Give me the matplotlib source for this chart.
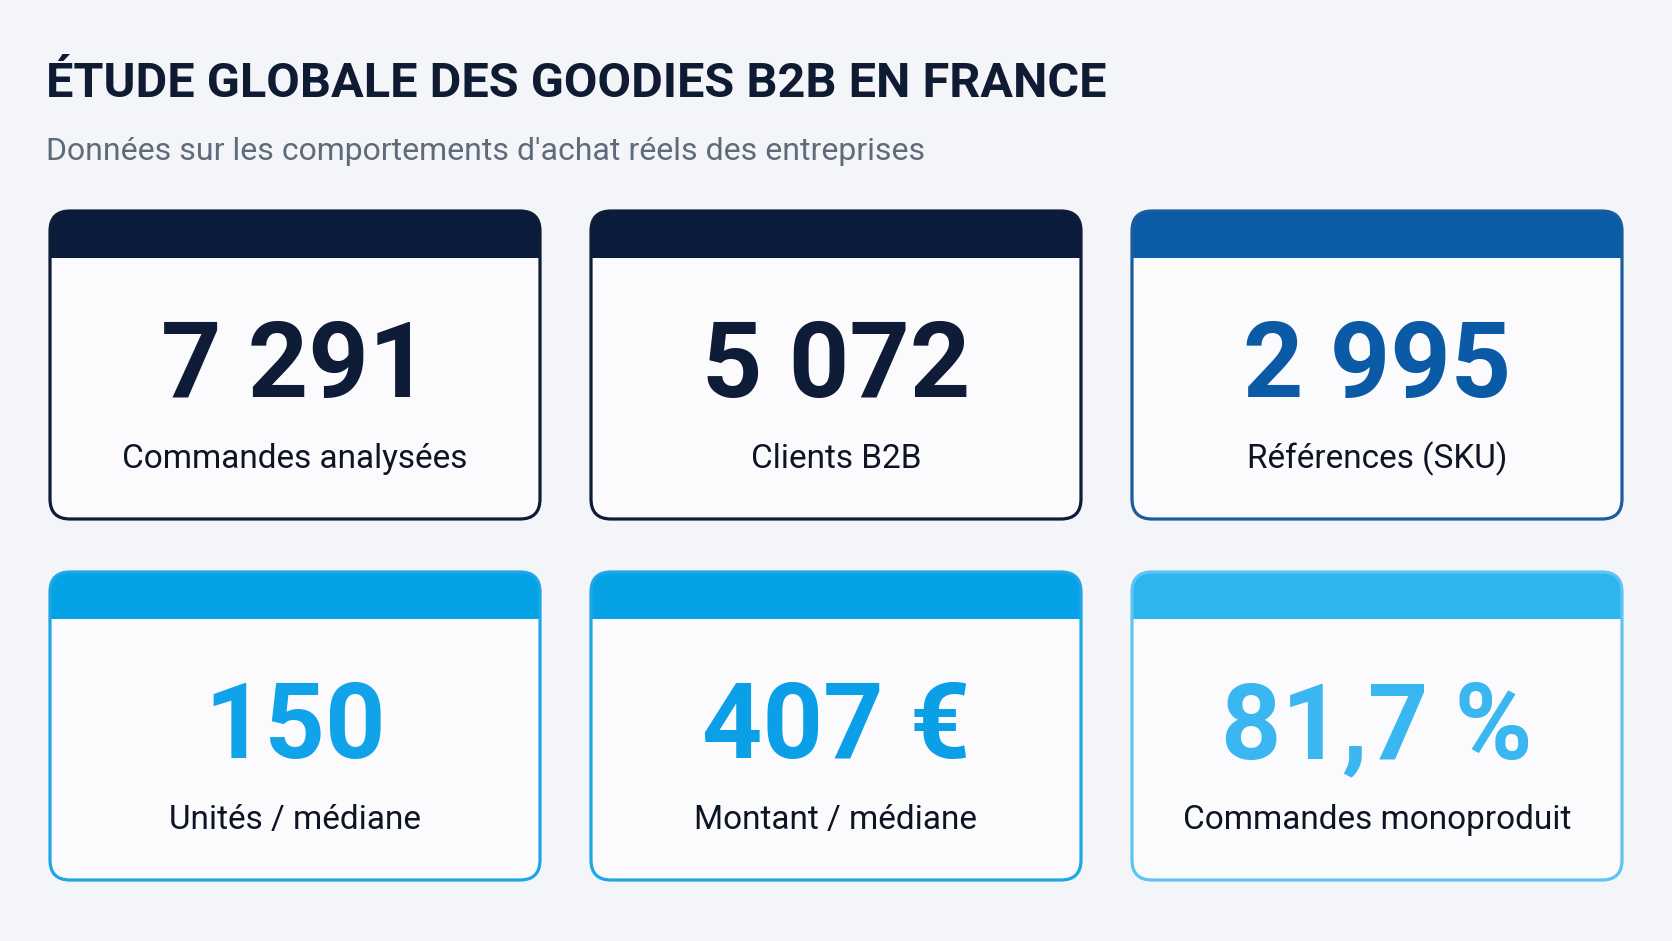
import matplotlib.pyplot as plt
from matplotlib.patches import FancyBboxPatch, Rectangle

# Data
TITLE = "ÉTUDE GLOBALE DES GOODIES B2B EN FRANCE"
SUBTITLE = "Données sur les comportements d'achat réels des entreprises"
VALUES = ["7 291", "5 072", "2 995", "150", "407 €", "81,7 %"]
LABELS = [
    "Commandes analysées",
    "Clients B2B",
    "Références (SKU)",
    "Unités / médiane",
    "Montant / médiane",
    "Commandes monoproduit",
]
HEADER_COLORS = ["#0b1b3b", "#0b1b3b", "#0a5ca6", "#06a2e6", "#06a2e6", "#2db5f0"]
VALUE_COLORS = ["#0e1c38", "#0e1c38", "#0b5aa5", "#10a3ea", "#0a9fe6", "#3ab6f0"]
BORDER_COLORS = ["#0e1c38", "#0e1c38", "#1a5c9c", "#1ea6e6", "#1ea6e6", "#5ec4f2"]

BG = "#f4f5f8"
W, H = 1672, 941

# Layout (pixels)
COL_X = [50, 591, 1132]
CARD_W = 490
ROW_Y = [211, 572]
CARD_H = 308
HEADER_H = 47
RADIUS = 20

plt.rcParams["font.family"] = ["Roboto", "DejaVu Sans"]


def draw_card(ax, x, y, header_color, border_color, value, label, value_color):
    box = dict(boxstyle=f"round,pad=0,rounding_size={RADIUS}")
    body = FancyBboxPatch((x, y), CARD_W, CARD_H, facecolor="#fbfbfd",
                          edgecolor="none", zorder=2, **box)
    ax.add_patch(body)
    header = FancyBboxPatch((x, y), CARD_W, CARD_H, facecolor=header_color,
                            edgecolor="none", zorder=3, **box)
    ax.add_patch(header)
    clip = Rectangle((x - 5, y - 5), CARD_W + 10, HEADER_H + 5,
                     transform=ax.transData)
    header.set_clip_path(clip)
    border = FancyBboxPatch((x, y), CARD_W, CARD_H, facecolor="none",
                            edgecolor=border_color, linewidth=2.3, zorder=4, **box)
    ax.add_patch(border)

    cx = x + CARD_W / 2
    ax.text(cx, y + 186, value, ha="center", va="baseline", fontsize=76,
            fontweight="bold", color=value_color, zorder=5)
    ax.text(cx, y + 257, label, ha="center", va="baseline", fontsize=24,
            color="#0d1424", zorder=5)


def main():
    fig = plt.figure(figsize=(W / 100, H / 100), dpi=100, facecolor=BG)
    ax = fig.add_axes([0, 0, 1, 1])
    ax.set_xlim(0, W)
    ax.set_ylim(H, 0)
    ax.axis("off")

    ax.text(46, 97, TITLE, ha="left", va="baseline", fontsize=35,
            fontweight="bold", color="#0f1b33")
    ax.text(46, 160, SUBTITLE, ha="left", va="baseline", fontsize=23,
            color="#5f6b7a")

    for i, (value, label) in enumerate(zip(VALUES, LABELS)):
        x = COL_X[i % 3]
        y = ROW_Y[i // 3]
        draw_card(ax, x, y, HEADER_COLORS[i], BORDER_COLORS[i], value, label,
                  VALUE_COLORS[i])

    fig.savefig("out.png", dpi=100, facecolor=BG)


if __name__ == "__main__":
    main()
